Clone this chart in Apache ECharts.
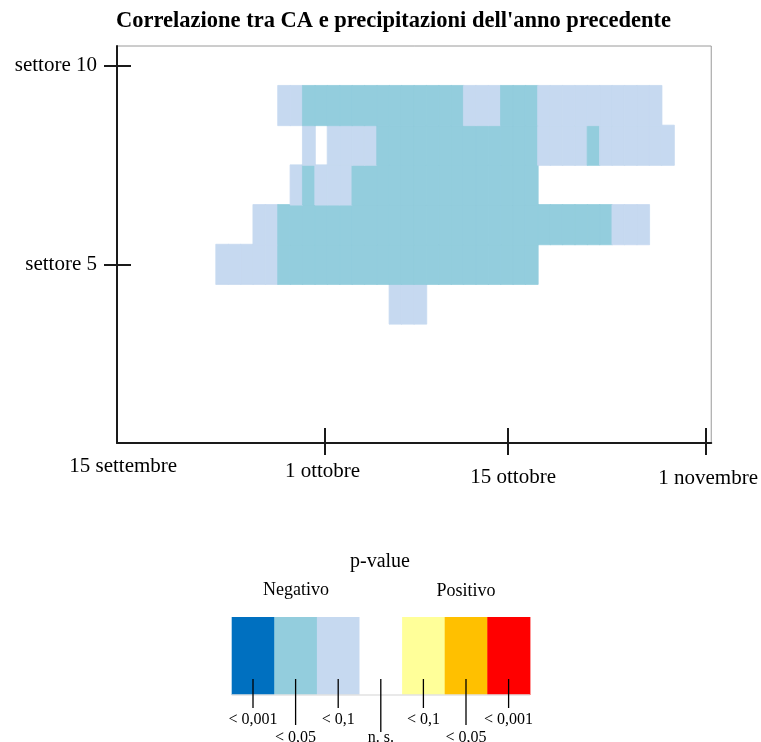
<!DOCTYPE html>
<html><head><meta charset="utf-8">
<script src="https://cdn.jsdelivr.net/npm/echarts@6/dist/echarts.min.js"></script>
<style>html,body{margin:0;padding:0;background:#fff}#c{width:761px;height:742px}</style>
</head><body><div id="c"></div>
<script>
// ---- DATA ----
const titleText = "Correlazione tra CA e precipitazioni dell'anno precedente";
const sectors = ['settore 1','settore 2','settore 3','settore 4','settore 5','settore 6','settore 7','settore 8','settore 9','settore 10'];
const shownSectorLabels = ['settore 5','settore 10'];
// days: 14 settembre ... 31 ottobre (48 daily columns)
const dayLabels = [
 '14/09','15/09','16/09','17/09','18/09','19/09','20/09','21/09','22/09','23/09','24/09','25/09','26/09','27/09','28/09','29/09','30/09',
 '01/10','02/10','03/10','04/10','05/10','06/10','07/10','08/10','09/10','10/10','11/10','12/10','13/10','14/10','15/10',
 '16/10','17/10','18/10','19/10','20/10','21/10','22/10','23/10','24/10','25/10','26/10','27/10','28/10','29/10','30/10','31/10'];
// significance level per day: 0 = n.s., -1 = neg p<0.1, -2 = neg p<0.05, -3 = neg p<0.001 (positive would be 1..3)
const settore9 = [0,0,0,0,0,0,0,0,0,0,0,0,0,-1,-1,-2,-2,-2,-2,-2,-2,-2,-2,-2,-2,-2,-2,-2,-1,-1,-1,-2,-2,-2,-1,-1,-1,-1,-1,-1,-1,-1,-1,-1,0,0,0,0];
const settore8 = [0,0,0,0,0,0,0,0,0,0,0,0,0,0,0,-1,0,-1,-1,-1,-1,-2,-2,-2,-2,-2,-2,-2,-2,-2,-2,-2,-2,-2,-1,-1,-1,-1,-2,-1,-1,-1,-1,-1,-1,0,0,0];
const settore7 = [0,0,0,0,0,0,0,0,0,0,0,0,0,0,-1,-2,-1,-1,-1,-2,-2,-2,-2,-2,-2,-2,-2,-2,-2,-2,-2,-2,-2,-2,0,0,0,0,0,0,0,0,0,0,0,0,0,0];
const settore6 = [0,0,0,0,0,0,0,0,0,0,0,-1,-1,-2,-2,-2,-2,-2,-2,-2,-2,-2,-2,-2,-2,-2,-2,-2,-2,-2,-2,-2,-2,-2,-2,-2,-2,-2,-2,-2,-1,-1,-1,0,0,0,0,0];
const settore5 = [0,0,0,0,0,0,0,0,-1,-1,-1,-1,-1,-2,-2,-2,-2,-2,-2,-2,-2,-2,-2,-2,-2,-2,-2,-2,-2,-2,-2,-2,-2,-2,0,0,0,0,0,0,0,0,0,0,0,0,0,0];
const settore4 = [0,0,0,0,0,0,0,0,0,0,0,0,0,0,0,0,0,0,0,0,0,0,-1,-1,-1,0,0,0,0,0,0,0,0,0,0,0,0,0,0,0,0,0,0,0,0,0,0,0];
// settori 1, 2, 3, 10: nessun valore significativo
const sectorRows = {'settore 4':settore4,'settore 5':settore5,'settore 6':settore6,'settore 7':settore7,'settore 8':settore8,'settore 9':settore9};
// x tick labels (in days from 14 settembre)
const xLabelTexts = ['15 settembre','1 ottobre','15 ottobre','1 novembre'];
const xLabelDays = [0.5, 16.6, 32.0, 47.75];
const xTickDays = [16.8, 31.55, 47.55];
// legend
const legendTitle = 'p-value';
const legendGroups = ['Negativo','Positivo'];
const levels = [-3,-2,-1,0,1,2,3];
const levelLabels = ['< 0,001','< 0,05','< 0,1','n. s.','< 0,1','< 0,05','< 0,001'];
const levelColors = ['#0070C0','#93CDDD','#C6D9F0','#FFFFFF','#FFFF99','#FFC000','#FF0000'];

// ---- BUILD ----
const colorOf = lv => levelColors[levels.indexOf(lv)];
const heatData = [];
sectors.forEach((s, yi) => {
  const row = sectorRows[s];
  if (!row) return;
  row.forEach((v, xi) => {
    if (v !== 0) heatData.push({value: [xi, yi, v], itemStyle: {color: colorOf(v), borderColor: colorOf(v), borderWidth: 0.8}});
  });
});
const serif = "'Liberation Serif','Times New Roman',serif";
const AX = '#1a1a1a';

const labelIdx = v => xLabelDays.findIndex(d => Math.abs(d - v) < 1e-6);
const rich = {};
[0,5,11,12].forEach((p, i) => { rich['l' + i] = {fontFamily: serif, fontSize: 21, color: '#000', padding: [p,0,0,0]}; });

// legend graphics
const LX = 231.7, LW = 42.6, LT = 617, LH = 78;
const g = [];
levels.forEach((lv, i) => {
  g.push({type:'rect', shape:{x: LX + i*LW, y: LT, width: LW + 0.5, height: LH}, style:{fill: levelColors[i]}, z: 10});
});
g.push({type:'line', shape:{x1: LX, y1: LT+LH, x2: LX + 7*LW, y2: LT+LH}, style:{stroke:'#e2e2e2', lineWidth:1.5}, z: 11});
levels.forEach((lv, i) => {
  const cx = LX + (i+0.5)*LW;
  const low = i % 2 === 1;
  const end = i === 3 ? 732 : (low ? 725 : 708);
  g.push({type:'line', shape:{x1: cx, y1: 679, x2: cx, y2: end}, style:{stroke:'#000', lineWidth:1.3}, z: 12});
  g.push({type:'text', x: cx, y: low ? 738 : 720, style:{text: levelLabels[i], fontFamily: serif, fontSize: 16, fill:'#000', align:'center', verticalAlign:'middle'}, z: 12});
});
g.push({type:'text', x: 380, y: 562, style:{text: legendTitle, fontFamily: serif, fontSize: 20, fill:'#000', align:'center', verticalAlign:'middle'}});
g.push({type:'text', x: 296, y: 590, style:{text: legendGroups[0], fontFamily: serif, fontSize: 18, fill:'#000', align:'center', verticalAlign:'middle'}});
g.push({type:'text', x: 466, y: 591, style:{text: legendGroups[1], fontFamily: serif, fontSize: 18, fill:'#000', align:'center', verticalAlign:'middle'}});

const sectorTickFn = (idx, val) => shownSectorLabels.indexOf(val) >= 0;

const option = {
  animation: false,
  backgroundColor: '#fff',
  title: {text: titleText, left: 116, top: 10, padding: 0,
    textStyle: {fontFamily: serif, fontWeight: 'bold', fontSize: 22.5, color: '#000'}},
  grid: {left: 117, right: 49, top: 46, bottom: 299, show: true, borderColor: '#9a9a9a', borderWidth: 1, backgroundColor: 'transparent'},
  xAxis: [
    {type: 'category', data: dayLabels, show: false},
    {type: 'value', min: 0, max: 48, position: 'bottom',
      axisLine: {show: true, onZero: false, lineStyle: {color: AX, width: 2}},
      axisTick: {show: true, inside: false, length: 12, customValues: xTickDays, lineStyle: {color: AX, width: 2}},
      axisLabel: {customValues: xLabelDays, margin: 13, fontFamily: serif, fontSize: 21, color: '#000',
        formatter: v => { const i = labelIdx(v); return i < 0 ? '' : '{l' + i + '|' + xLabelTexts[i] + '}'; }, rich: rich},
      splitLine: {show: false}},
    {type: 'value', min: 0, max: 48, position: 'bottom',
      axisLine: {show: false, onZero: false},
      axisTick: {show: true, inside: true, length: 15, customValues: xTickDays, lineStyle: {color: AX, width: 2}},
      axisLabel: {show: false}, splitLine: {show: false}}
  ],
  yAxis: [
    {type: 'category', data: sectors, position: 'left',
      axisLine: {show: true, onZero: false, lineStyle: {color: AX, width: 2}},
      axisTick: {show: true, alignWithLabel: true, interval: sectorTickFn, length: 13, lineStyle: {color: AX, width: 2}},
      axisLabel: {interval: sectorTickFn, margin: 20, fontFamily: serif, fontSize: 21, color: '#000'},
      splitLine: {show: false}},
    {type: 'category', data: sectors, position: 'left',
      axisLine: {show: false, onZero: false},
      axisTick: {show: true, inside: true, alignWithLabel: true, interval: sectorTickFn, length: 14, lineStyle: {color: AX, width: 2}},
      axisLabel: {show: false}, splitLine: {show: false}}
  ],
  series: [{type: 'heatmap', xAxisIndex: 0, yAxisIndex: 0, data: heatData, emphasis: {disabled: true}}],
  graphic: g
};
echarts.init(document.getElementById('c'), null, {renderer: 'canvas'}).setOption(option);
</script></body></html>
